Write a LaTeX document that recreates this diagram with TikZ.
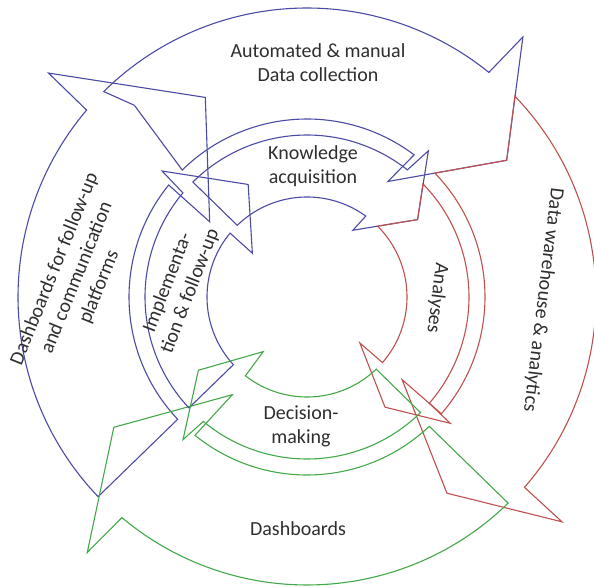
\documentclass[tikz,border=0pt]{standalone}
\usepackage{fontspec}
\setmainfont{Carlito}
\definecolor{bl}{HTML}{4B4BA6}
\definecolor{rd}{HTML}{C0504D}
\definecolor{gr}{HTML}{43A849}
\definecolor{txt}{HTML}{2E2E2E}
\begin{document}
\begin{tikzpicture}[x=1pt,y=-1pt,
  arr/.style={line width=1.1pt, line join=miter, miter limit=6},
  lbl/.style={font=\fontsize{20}{24}\selectfont, text=txt, align=center, inner sep=0pt}]
\useasboundingbox (0,0) rectangle (594,588);
\begin{scope}[shift={(307,297)}]
% ---- outer ring ----
% A: top blue
\draw[arr,bl] plot[domain=225.3:309,samples=60,variable=\t] (\t:289) -- (309.7:338) -- (325.6:242) -- (305:141) -- (307:178)
  -- plot[domain=307:225.5,samples=60,variable=\t] (\t:178) -- (228:258) -- cycle;
% D: left blue
\draw[arr,bl] plot[domain=136.3:220.3,samples=60,variable=\t] (\t:289) -- (220.9:342) -- (243:224) -- (217.7:123) -- (219:178)
  -- plot[domain=219:136.6,samples=60,variable=\t] (\t:178) -- cycle;
% B: right red
\draw[arr,rd] plot[domain=316:401.2,samples=60,variable=\t] (\t:289) -- (401.4:340) -- (414.5:241) -- (401:126) -- (401:178)
  -- plot[domain=401:315.9,samples=60,variable=\t] (\t:178) -- (325.6:242) -- cycle;
% C: bottom green
\draw[arr,gr] plot[domain=45.7:130,samples=60,variable=\t] (\t:288) -- (130.7:337) -- (146:233) -- (127.4:123) -- (129:178)
  -- plot[domain=129:46.6,samples=60,variable=\t] (\t:178) -- cycle;
% ---- inner ring ----
% E: Knowledge (blue)
\draw[arr,bl] plot[domain=225.2:308.3,samples=50,variable=\t] (\t:162) -- (309.7:190) -- (325:135) -- (304.5:81) -- (306:100)
  -- plot[domain=306:225.8,samples=50,variable=\t] (\t:100) -- cycle;
% H: Implementation (blue)
\draw[arr,bl] plot[domain=136.8:220,samples=50,variable=\t] (\t:162) -- (221:192) -- (242.4:127) -- (218.7:70) -- (219.7:100)
  -- plot[domain=219.7:137.4,samples=50,variable=\t] (\t:100) -- cycle;
% F: Analyses (red)
\draw[arr,rd] plot[domain=315.7:401,samples=50,variable=\t] (\t:162) -- (401.4:191) -- (414.7:135) -- (401:70) -- (401:100)
  -- plot[domain=401:314.9,samples=50,variable=\t] (\t:100) -- (325:135) -- cycle;
% G: Decision (green)
\draw[arr,gr] plot[domain=45.5:129.8,samples=50,variable=\t] (\t:162) -- (131:189) -- (146:131) -- (128.7:70) -- (128:100)
  -- plot[domain=128:46.2,samples=50,variable=\t] (\t:100) -- cycle;
\end{scope}
% ---- labels ----
\node[lbl] (collect) at (318,63) {Automated \& manual\\Data collection};
\node[lbl] (know) at (313,166) {Knowledge\\acquisition};
\node[lbl,rotate=-97] (dwh) at (543,300) {Data warehouse \& analytics};
\node[lbl,rotate=-97] (anal) at (437,298) {Analyses};
\node[lbl] (decide) at (301,426) {Decision-\\making};
\node[lbl] (dash) at (298,529) {Dashboards};
\node[lbl,rotate=68] (dashfu) at (77,278) {Dashboards for follow-up\\and communication\\platforms};
\node[lbl,rotate=69] (impl) at (179,287) {Implementa-\\tion \& follow-up};
\end{tikzpicture}
\end{document}
